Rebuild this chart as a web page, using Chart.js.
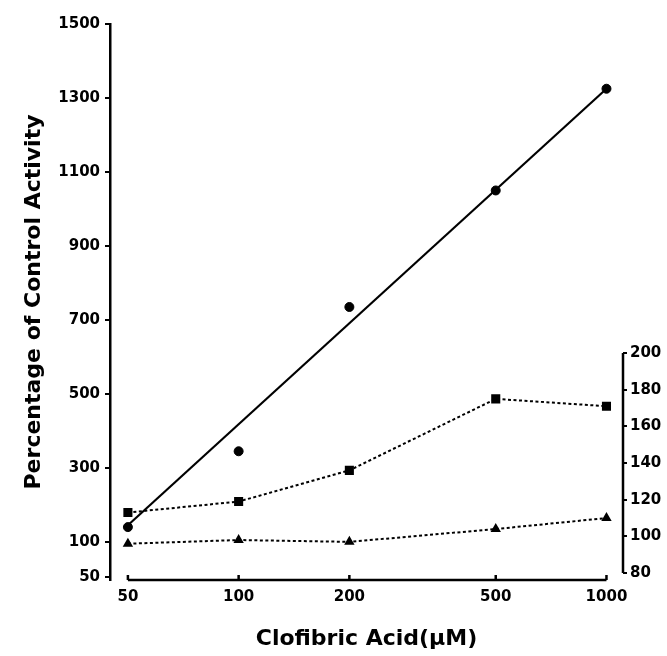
<!DOCTYPE html>
<html>
<head>
<meta charset="utf-8">
<script src="https://cdn.jsdelivr.net/npm/chart.js@4"></script>
<style>
  html, body { margin: 0; padding: 0; background: #fff; }
  #wrap { width: 667px; height: 656px; }
</style>
</head>
<body>
<div id="wrap"><canvas id="grafico"></canvas></div>
<script>
// datos
const concentraciones = [50, 100, 200, 500, 1000];      // uM, eje x (log)
const valoresCirculo = [140, 345, 735, 1050, 1325];     // eje izquierdo
const valoresCuadrado = [113, 119, 136, 175, 171];      // eje derecho
const valoresTriangulo = [96, 98, 97, 104, 110];        // eje derecho
const rectaX = [50, 1000];
const rectaY = [145, 1325];                             // recta ajustada, eje izquierdo

const ticksX = [50, 100, 200, 500, 1000];
const ticksIzq = [100, 300, 500, 700, 900, 1100, 1300, 1500];
const etiquetaCorte = '50';    // etiqueta del corte del eje izquierdo
const posCorte = 5;            // donde se dibuja el 50 (eje cortado)
const ticksDer = [80, 100, 120, 140, 160, 180, 200];

Chart.defaults.font.family = "'DejaVu Sans', sans-serif";
Chart.defaults.color = '#000';

const puntos = (xs, ys) => xs.map((x, i) => ({ x: x, y: ys[i] }));

// lineas de ejes que no ocupan toda el area
const lineasEjes = {
    id: 'lineasEjes',
    afterDraw(chart) {
        const { ctx, chartArea, scales } = chart;
        const sx = scales.x, sd = scales.yDer;
        ctx.save();
        ctx.strokeStyle = '#000';
        ctx.lineWidth = 2.5;
        ctx.beginPath();
        ctx.moveTo(sx.getPixelForValue(ticksX[0]), chartArea.bottom);
        ctx.lineTo(sx.getPixelForValue(ticksX[ticksX.length - 1]), chartArea.bottom);
        ticksX.forEach(v => {
            const px = sx.getPixelForValue(v);
            ctx.moveTo(px, chartArea.bottom);
            ctx.lineTo(px, chartArea.bottom - 5);
        });
        ctx.moveTo(chartArea.right, sd.getPixelForValue(ticksDer[0]));
        ctx.lineTo(chartArea.right, sd.getPixelForValue(ticksDer[ticksDer.length - 1]));
        ctx.stroke();
        ctx.restore();
    }
};

const fuenteTicks = { size: 15, weight: 'bold' };
const fuenteTitulo = { size: 22, weight: 'bold' };

new Chart(document.getElementById('grafico'), {
    type: 'scatter',
    data: {
        datasets: [{
            data: puntos(rectaX, rectaY),
            yAxisID: 'yIzq',
            showLine: true,
            borderColor: '#000',
            borderWidth: 2.2,
            pointRadius: 0
        }, {
            data: puntos(concentraciones, valoresCirculo),
            yAxisID: 'yIzq',
            showLine: false,
            pointStyle: 'circle',
            pointRadius: 4.5,
            backgroundColor: '#000',
            borderColor: '#000'
        }, {
            data: puntos(concentraciones, valoresCuadrado),
            yAxisID: 'yDer',
            showLine: true,
            borderColor: '#000',
            borderWidth: 2,
            borderDash: [3, 2.5],
            pointStyle: 'rect',
            pointRadius: 5,
            backgroundColor: '#000'
        }, {
            data: puntos(concentraciones, valoresTriangulo),
            yAxisID: 'yDer',
            showLine: true,
            borderColor: '#000',
            borderWidth: 2,
            borderDash: [3, 2.5],
            pointStyle: 'triangle',
            pointRadius: 4,
            backgroundColor: '#000'
        }]
    },
    options: {
        responsive: true,
        maintainAspectRatio: false,
        animation: false,
        layout: { padding: { top: 24, left: 0, right: 0, bottom: 0 } },
        plugins: {
            legend: { display: false },
            tooltip: { enabled: false }
        },
        scales: {
            x: {
                type: 'logarithmic',
                position: 'bottom',
                min: 44.7,
                max: 1109,
                afterBuildTicks: s => { s.ticks = ticksX.map(v => ({ value: v })); },
                afterFit: s => { s.height = 76; },
                border: { display: false },
                grid: { display: false, drawTicks: false },
                ticks: {
                    autoSkip: false,
                    maxRotation: 0,
                    padding: 8,
                    font: fuenteTicks,
                    callback: v => String(v)
                },
                title: {
                    display: true,
                    text: 'Clofibric Acid(μM)',
                    font: fuenteTitulo,
                    padding: { top: 0, bottom: 4 }
                }
            },
            yIzq: {
                type: 'linear',
                position: 'left',
                min: -3,
                max: 1500,
                afterBuildTicks: s => {
                    s.ticks = [{ value: posCorte }].concat(ticksIzq.map(v => ({ value: v })));
                },
                afterFit: s => { s.width = 110; },
                border: { display: true, color: '#000', width: 2.5 },
                grid: { drawOnChartArea: false, color: '#000', lineWidth: 2, tickLength: 5 },
                ticks: {
                    padding: 5,
                    font: fuenteTicks,
                    callback: (v, i) => i === 0 ? etiquetaCorte : String(ticksIzq[i - 1])
                },
                title: {
                    display: true,
                    text: 'Percentage of Control Activity',
                    font: fuenteTitulo,
                    padding: { top: 21, bottom: 0 }
                }
            },
            yDer: {
                type: 'linear',
                position: 'right',
                min: 76.2,
                max: 379.5,
                afterBuildTicks: s => { s.ticks = ticksDer.map(v => ({ value: v })); },
                afterFit: s => { s.width = 44; },
                border: { display: false },
                grid: { drawOnChartArea: false, color: '#000', lineWidth: 2, tickLength: 4 },
                ticks: {
                    padding: 3,
                    font: fuenteTicks,
                    callback: v => String(v)
                }
            }
        }
    },
    plugins: [lineasEjes]
});
</script>
</body>
</html>
